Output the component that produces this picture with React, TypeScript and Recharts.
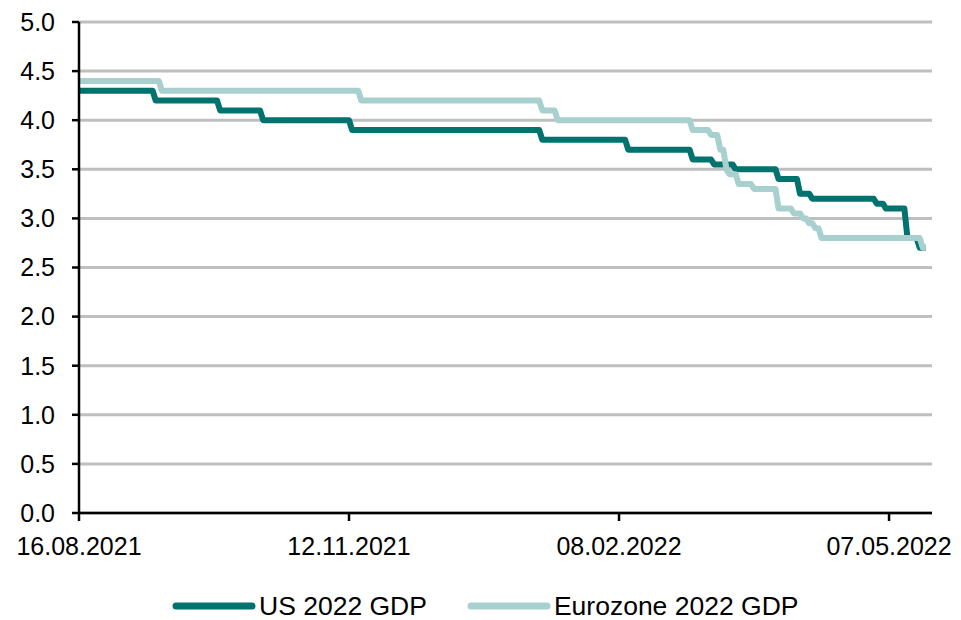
import { LineChart, Line, XAxis, YAxis, CartesianGrid, Legend } from 'recharts'

// ---------------------------------------------------------------------------
// Data (days since 16.08.2021, consensus forecast in %)
// ---------------------------------------------------------------------------

const END_DAY = 276

const US_DAYS = [0, 25, 46, 60, 89, 151, 179, 200, 207, 214, 228, 235, 239, 260, 263, 270, 274]
const US_VALUES = [4.3, 4.2, 4.1, 4.0, 3.9, 3.8, 3.7, 3.6, 3.55, 3.5, 3.4, 3.25, 3.2, 3.15, 3.1, 2.8, 2.7]

const EZ_DAYS = [0, 27, 92, 151, 156, 200, 206, 209, 211, 212, 215, 220, 228, 233, 236, 238, 240, 242, 275]
const EZ_VALUES = [4.4, 4.3, 4.2, 4.1, 4.0, 3.9, 3.85, 3.7, 3.5, 3.45, 3.35, 3.3, 3.1, 3.05, 3.0, 2.95, 2.9, 2.8, 2.7]

const X_TICKS = [0, 88, 176, 264]
const X_LABELS = ['16.08.2021', '12.11.2021', '08.02.2022', '07.05.2022']
const Y_TICKS = [0, 0.5, 1, 1.5, 2, 2.5, 3, 3.5, 4, 4.5, 5]

// ---------------------------------------------------------------------------
// Colors / fonts
// ---------------------------------------------------------------------------

const DARK = '#00736F'
const LIGHT = '#A8D0CF'
const FONT = '"Liberation Sans", Arial, sans-serif'

// values only change on revision days; hold the previous value until the day before
function buildSteps(days: number[], values: number[], endDay: number) {
  const pts: { day: number; value: number }[] = []
  days.forEach((d, i) => {
    if (i > 0) pts.push({ day: d - 1, value: values[i - 1] })
    pts.push({ day: d, value: values[i] })
  })
  pts.push({ day: endDay, value: values[values.length - 1] })
  return pts
}

const usData = buildSteps(US_DAYS, US_VALUES, END_DAY)
const ezData = buildSteps(EZ_DAYS, EZ_VALUES, END_DAY)

function LegendContent() {
  const items = [
    { label: 'US 2022 GDP', color: DARK },
    { label: 'Eurozone 2022 GDP', color: LIGHT },
  ]
  return (
    <div style={{ display: 'flex', alignItems: 'center', height: 28, paddingLeft: 172, fontFamily: FONT, fontSize: 26.5, color: '#000' }}>
      {items.map((it, i) => (
        <div key={it.label} style={{ display: 'flex', alignItems: 'center', marginLeft: i === 0 ? 0 : 40 }}>
          <svg width={84} height={10} style={{ marginRight: 3 }}>
            <line x1={4} y1={5} x2={80} y2={5} stroke={it.color} strokeWidth={7} strokeLinecap="round" />
          </svg>
          <span>{it.label}</span>
        </div>
      ))}
    </div>
  )
}

export default function App() {
  return (
    <div style={{ position: 'absolute', left: 0, top: 0, background: '#fff' }}>
      <LineChart width={961} height={620} margin={{ top: 22, right: 29, left: 0, bottom: 0 }}>
        <CartesianGrid vertical={false} stroke="#BFBFBF" strokeWidth={3} />
        <XAxis
          dataKey="day"
          type="number"
          domain={[0, 278]}
          ticks={X_TICKS}
          tickFormatter={(v: number) => X_LABELS[X_TICKS.indexOf(v)] ?? ''}
          allowDuplicatedCategory={false}
          height={79}
          stroke="#000"
          strokeWidth={2.5}
          tickSize={8}
          tickMargin={16}
          tick={{ fill: '#000', fontSize: 25, fontFamily: FONT }}
        />
        <YAxis
          type="number"
          domain={[0, 5]}
          ticks={Y_TICKS}
          tickFormatter={(v: number) => v.toFixed(1)}
          width={79}
          stroke="#000"
          strokeWidth={2.5}
          tickSize={7}
          tickMargin={17}
          tick={{ fill: '#000', fontSize: 25, fontFamily: FONT }}
        />
        <Legend verticalAlign="bottom" height={28} content={<LegendContent />} wrapperStyle={{ left: 0, width: 961 }} />
        <Line data={usData} dataKey="value" name="US 2022 GDP" type="linear" stroke={DARK} strokeWidth={6} dot={false} strokeLinejoin="round" isAnimationActive={false} />
        <Line data={ezData} dataKey="value" name="Eurozone 2022 GDP" type="linear" stroke={LIGHT} strokeWidth={6} dot={false} strokeLinejoin="round" isAnimationActive={false} />
      </LineChart>
    </div>
  )
}
